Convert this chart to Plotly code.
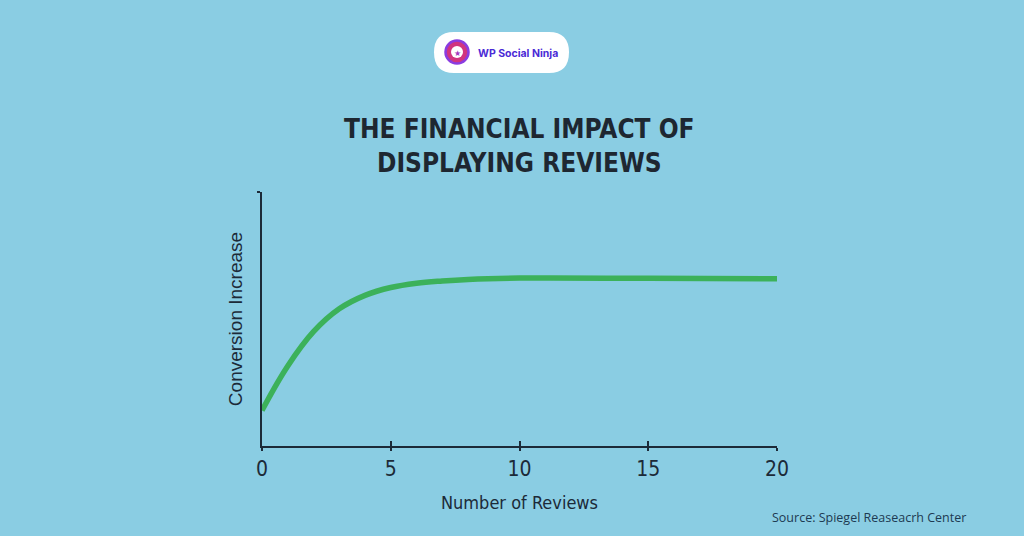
import plotly.graph_objects as go

# ---- data ----
reviews = [0, 1, 2, 3, 4, 5, 6, 7, 8, 10, 15, 20]
conversion = [14, 31.5, 45, 54, 59.3, 62.4, 64.1, 65, 65.6, 66.1, 66, 65.8]
x_ticks = [0, 5, 10, 15, 20]
x_tick_labels = ["0", "5", "10", "15", "20"]

title_lines = ["THE FINANCIAL IMPACT OF", "DISPLAYING REVIEWS"]
x_title = "Number of Reviews"
y_title = "Conversion Increase"
source_text = "Source: Spiegel Reaseacrh Center"
brand_text = "WP Social Ninja"

BG = "#8acde3"
INK = "#1c2a38"
GREEN = "#3cb15a"

fig = go.Figure()
fig.add_trace(go.Scatter(
    x=reviews, y=conversion, mode="lines",
    line=dict(color=GREEN, width=5.5, shape="spline", smoothing=1.1),
    hoverinfo="skip", showlegend=False,
))
# invisible trace on the overlay axis so its cross-ticks are drawn
fig.add_trace(go.Scatter(x=[reviews[0]], y=[conversion[0]], xaxis="x2",
                         mode="markers", marker=dict(opacity=0),
                         hoverinfo="skip", showlegend=False))

fig.update_layout(
    width=1024, height=536,
    paper_bgcolor=BG, plot_bgcolor=BG,
    margin=dict(l=262, r=247, t=192, b=90),
    xaxis=dict(
        range=[0, 20], tickvals=x_ticks, ticktext=x_tick_labels,
        showgrid=False, zeroline=False,
        showline=True, linecolor=INK, linewidth=2,
        ticks="outside", ticklen=3, tickwidth=2, tickcolor=INK,
        tickfont=dict(family="DejaVu Sans Condensed", size=21, color=INK),
        title=dict(text=x_title, standoff=16,
                   font=dict(family="DejaVu Sans Condensed", size=18, color=INK)),
    ),
    xaxis2=dict(
        overlaying="x", matches="x", anchor="y", side="bottom",
        tickvals=x_ticks, showticklabels=False, showgrid=False, zeroline=False,
        showline=False, ticks="inside", ticklen=5, tickwidth=2, tickcolor=INK,
    ),
    yaxis=dict(
        range=[0, 100], tickvals=[100], showticklabels=False,
        showgrid=False, zeroline=False,
        showline=True, linecolor=INK, linewidth=2,
        ticks="outside", ticklen=3, tickwidth=2, tickcolor=INK,
        title=dict(text=y_title, standoff=9,
                   font=dict(family="Liberation Sans", size=19, color=INK)),
    ),
)

# title
fig.add_annotation(
    text="<b>" + title_lines[0] + "</b><br><b>" + title_lines[1] + "</b>",
    xref="paper", yref="paper", x=0.5, y=1, xanchor="center", yanchor="middle",
    yshift=(192 - 146), showarrow=False, align="center",
    font=dict(family="DejaVu Sans Condensed", size=26, color="#1e2731"),
)

# source
fig.add_annotation(
    text=source_text, xref="paper", yref="paper", x=1, y=0,
    xanchor="left", yanchor="middle", xshift=(770 - 777), yshift=-(517 - 446),
    showarrow=False, font=dict(family="Open Sans", size=12.5, color="#1d3a52"),
)

# brand pill (pixel-based, converted to paper coords)
L, R, T, B = 262, 777, 192, 446
def px(xp):
    return (xp - L) / (R - L)
def py(yp):
    return (B - yp) / (B - T)

x0, x1, y0, y1, rad = 434, 569, 32, 73, 20
path = (f"M {px(x0+rad)} {py(y0)} L {px(x1-rad)} {py(y0)} "
        f"Q {px(x1)} {py(y0)} {px(x1)} {py((y0+y1)/2)} "
        f"Q {px(x1)} {py(y1)} {px(x1-rad)} {py(y1)} "
        f"L {px(x0+rad)} {py(y1)} "
        f"Q {px(x0)} {py(y1)} {px(x0)} {py((y0+y1)/2)} "
        f"Q {px(x0)} {py(y0)} {px(x0+rad)} {py(y0)} Z")
fig.add_shape(type="path", path=path, xref="paper", yref="paper",
              fillcolor="white", line=dict(width=0))
cx, cy, r = 457, 52, 11.5
fig.add_shape(type="circle", xref="paper", yref="paper",
              x0=px(cx - r), x1=px(cx + r), y0=py(cy + r), y1=py(cy - r),
              fillcolor="#d1357f", line=dict(color="#8a3ce0", width=2.5))
r2 = 6
fig.add_shape(type="circle", xref="paper", yref="paper",
              x0=px(cx - r2), x1=px(cx + r2), y0=py(cy + r2), y1=py(cy - r2),
              fillcolor="white", line=dict(width=0))
fig.add_annotation(text="★", xref="paper", yref="paper", x=px(cx), y=py(cy),
                   xanchor="center", yanchor="middle", showarrow=False,
                   font=dict(size=8, color="#a43ac0"))
fig.add_annotation(text="<b>" + brand_text + "</b>", xref="paper", yref="paper",
                   x=px(476), y=py(53), xanchor="left", yanchor="middle",
                   showarrow=False,
                   font=dict(family="Inter", size=10.5, color="#4b2ad6"))

fig.write_html("out.html", config={"displayModeBar": False},
               post_script="document.body.style.margin='0';")
